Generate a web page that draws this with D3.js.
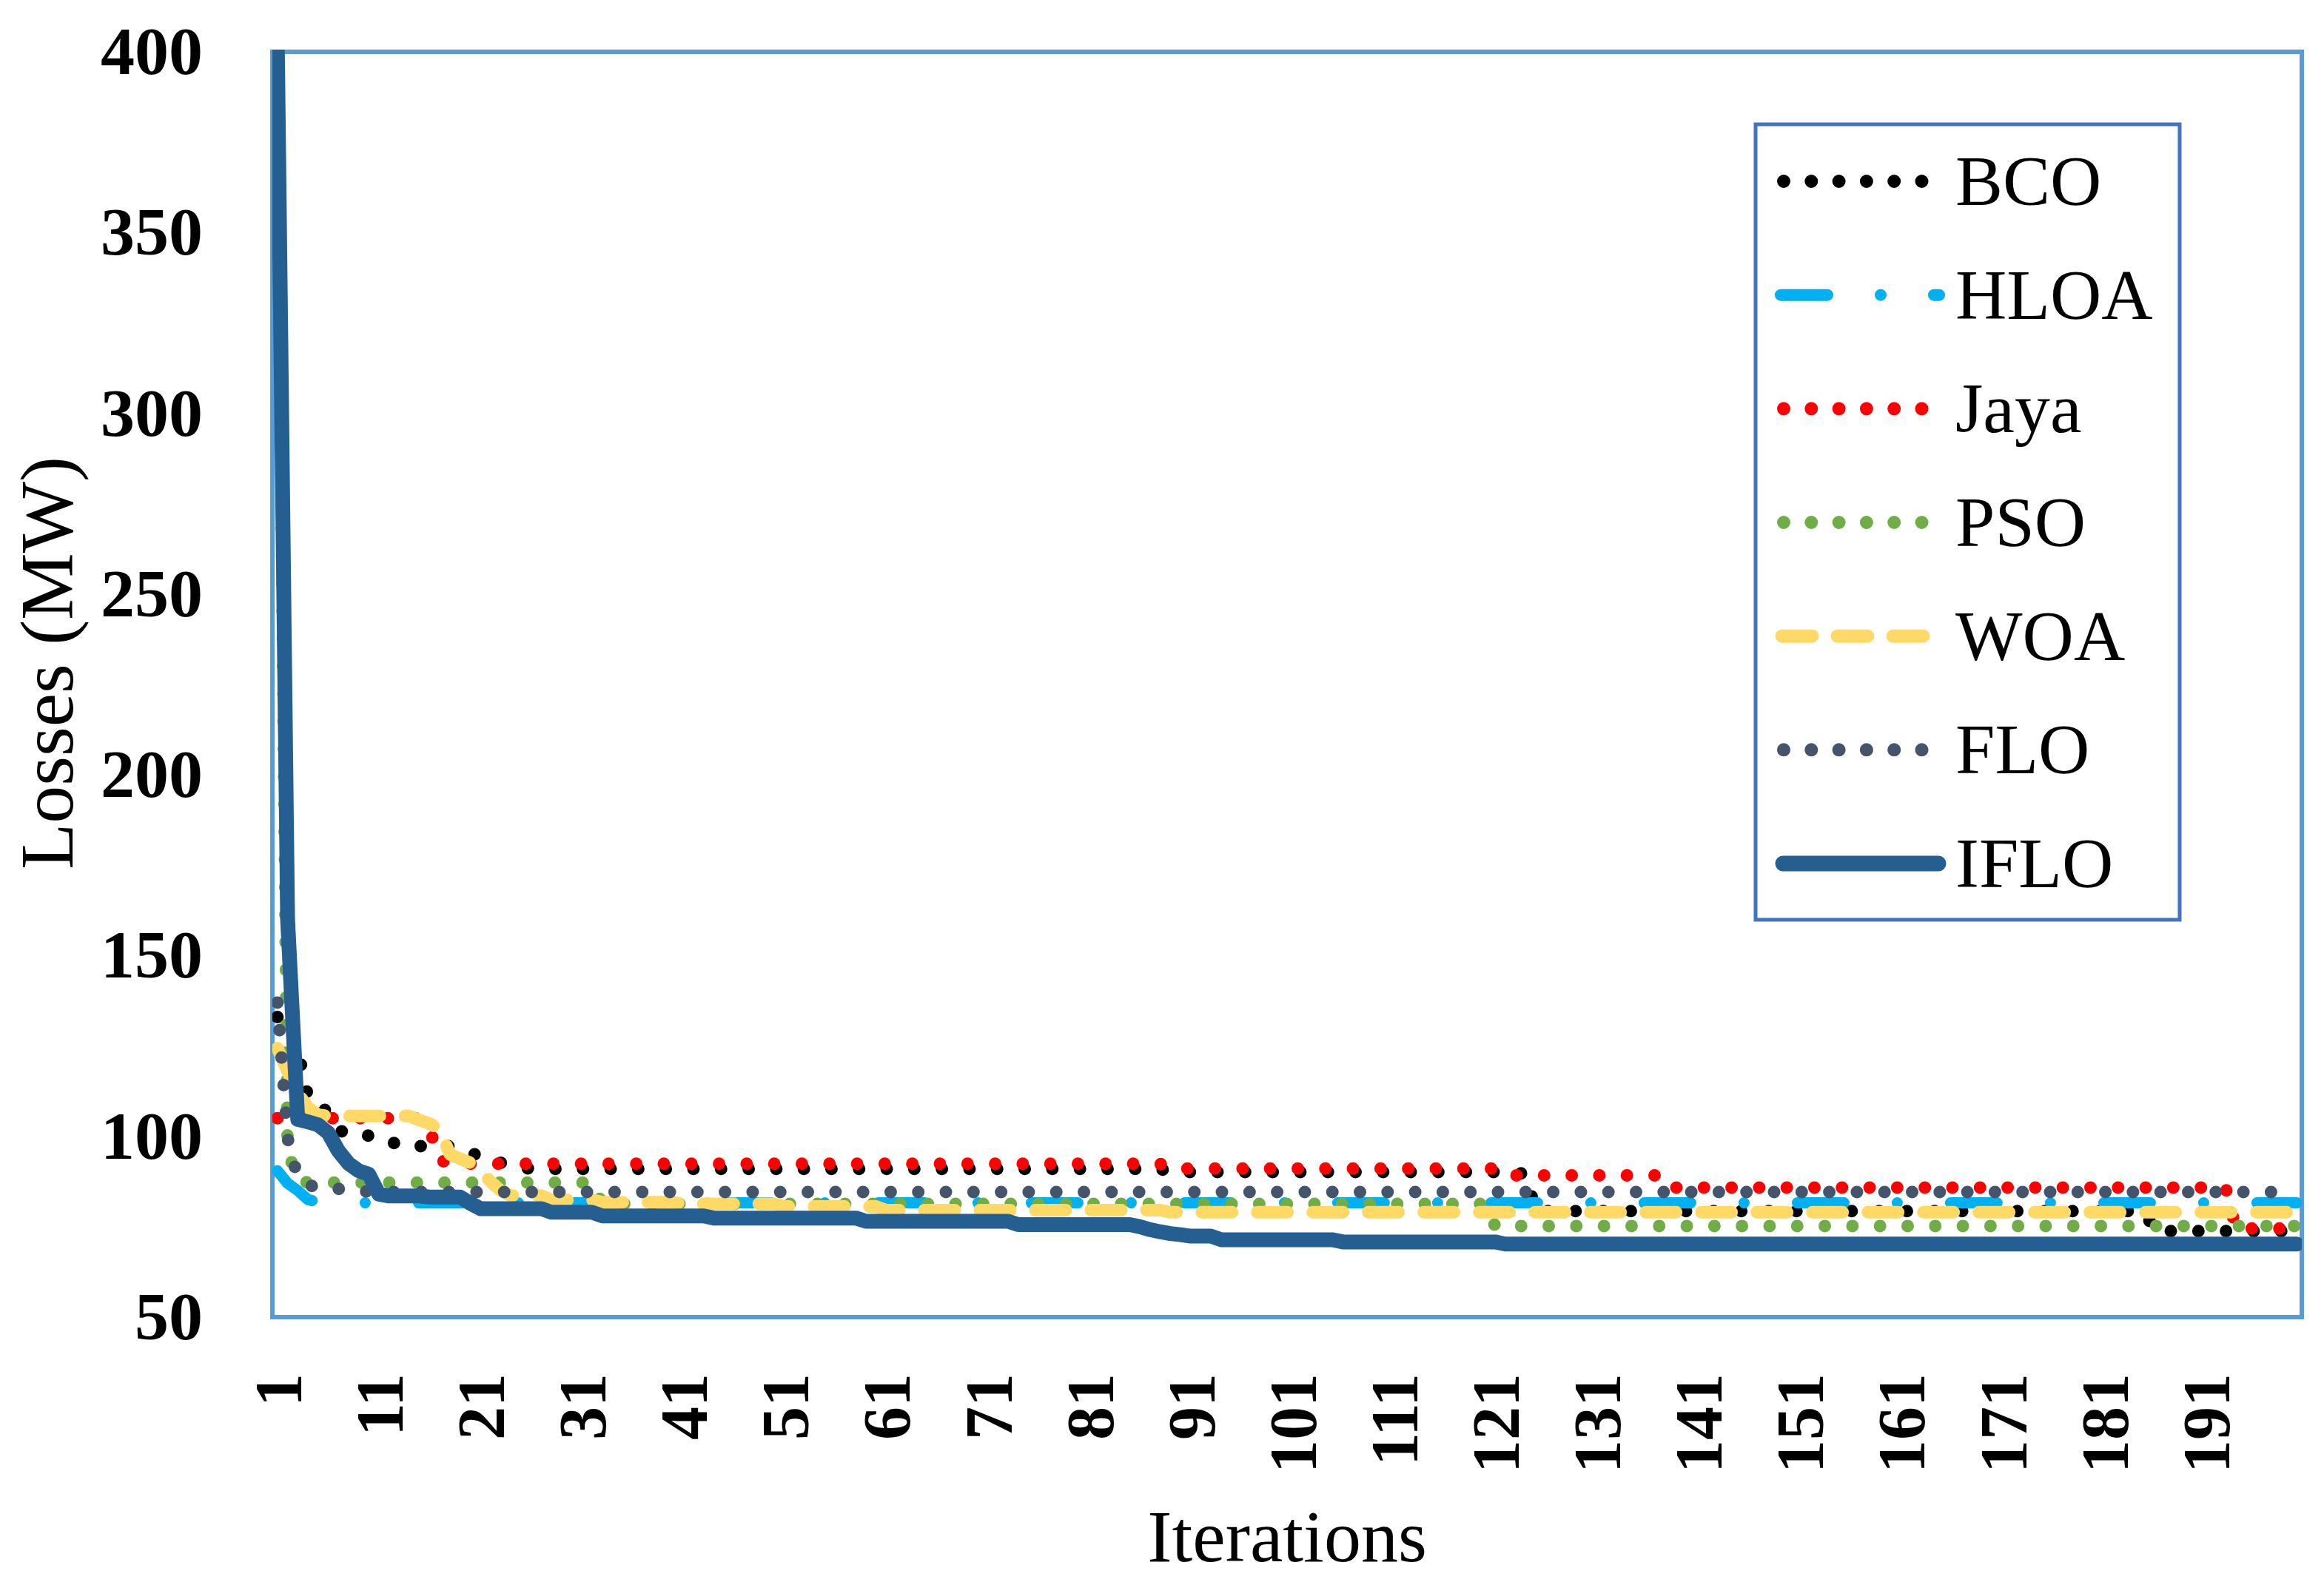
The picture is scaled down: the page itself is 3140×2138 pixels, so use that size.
<!DOCTYPE html>
<html>
<head>
<meta charset="utf-8">
<script src="https://cdn.jsdelivr.net/npm/d3@7"></script>
<style>
  html, body { margin: 0; padding: 0; background: #fff; }
  svg { display: block; }
</style>
</head>
<body>
<div id="container"></div>
<script>
// x categories: iteration number
const iterations = d3.range(1, 201);
const xTickLabels = [1, 11, 21, 31, 41, 51, 61, 71, 81, 91, 101, 111, 121, 131, 141, 151, 161, 171, 181, 191];
const yTicks = [50, 100, 150, 200, 250, 300, 350, 400];

// convergence curves
// each entry is [iteration, losses]; the value holds until the next entry
const bcoRuns = [[1, 133], [2, 131], [3, 124], [4, 111], [5, 110], [6, 106], [7, 102], [8, 100.2], [12, 99], [13, 97.3],
  [19, 96.5], [20, 95.5], [21, 94.4], [22, 93.5], [23, 92.7], [24, 92], [25, 91.4], [26, 91.0], [89, 90.1], [124, 89.5],
  [125, 79.3], [186, 73.8]];
const hloaRuns = [[1, 90.5], [2, 87], [3, 85], [4, 82.5], [5, 81.8], [6, 81.6]];
const jayaRuns = [[1, 105], [16, 102], [17, 93.5], [18, 92.4], [89, 91.1], [123, 89.2], [138, 85.8], [194, 74.5]];
const psoRuns = [[1, 398], [2, 96], [3, 88], [4, 87.2], [33, 81.3], [121, 75.2]];
const woaRuns = [[1, 124.4], [2, 118], [3, 112], [4, 108], [5, 106], [6, 105.6], [15, 104.5], [16, 103.5], [17, 102],
  [18, 95], [19, 93.8], [20, 92.7], [21, 90.5], [22, 87.5], [23, 85], [24, 83.6], [28, 82.4], [33, 81.8], [41, 81.3],
  [51, 80.6], [61, 79.6], [89, 79.0]];
const floRuns = [[1, 137], [2, 99.5], [3, 88.5], [4, 86.8], [5, 85.5], [8, 85.1], [10, 84.6]];
const ifloRuns = [[1, 400], [2, 160], [3, 104.7], [4, 104], [5, 103.2], [6, 101], [7, 96], [8, 92.5], [9, 90.5],
  [10, 89.5], [11, 84], [12, 83.5], [16, 83.2], [20, 81.5], [21, 80], [28, 79], [33, 78], [44, 77.4], [59, 76.5],
  [74, 75.6], [86, 75], [87, 74.2], [88, 73.6], [89, 73.1], [90, 72.8], [91, 72.4], [94, 71.4], [106, 70.8], [122, 70.2]];

const seriesNames = ["BCO", "HLOA", "Jaya", "PSO", "WOA", "FLO", "IFLO"];
const seriesRuns = [bcoRuns, hloaRuns, jayaRuns, psoRuns, woaRuns, floRuns, ifloRuns];

// looks of each series (Excel style line formats)
const styles = [
  { color: "#000000", width: 17, dash: "0 37.3" },
  { color: "#00B0F0", width: 15, dash: "63 72 0 72" },
  { color: "#FF0000", width: 17, dash: "0 37.3" },
  { color: "#70AD47", width: 17, dash: "0 37.3" },
  { color: "#FFD966", width: 17, dash: "41 34" },
  { color: "#44546A", width: 17, dash: "0 37.3" },
  { color: "#255E91", width: 20, dash: null }
];

// turn the step runs into one value per iteration
function expand(runs) {
  return iterations.map(it => {
    let v = runs[0][1];
    runs.forEach(r => { if (it >= r[0]) v = r[1]; });
    return { it: it, v: v };
  });
}

const W = 3140, H = 2138;
const plot = { left: 368, right: 3110, top: 70, bottom: 1780 };
const serif = "'Liberation Serif', 'DejaVu Serif', serif";

let svg = d3.select("#container")
  .append("svg")
  .attr("width", W)
  .attr("height", H);

svg.append("rect").attr("width", W).attr("height", H).attr("fill", "#fff");

let x = d3.scalePoint()
  .domain(iterations)
  .range([plot.left, plot.right])
  .padding(0.5);

let y = d3.scaleLinear()
  .domain([50, 400])
  .range([plot.bottom, plot.top]);

// plot area frame
svg.append("rect")
  .attr("x", plot.left)
  .attr("y", plot.top)
  .attr("width", plot.right - plot.left)
  .attr("height", plot.bottom - plot.top)
  .attr("fill", "none")
  .attr("stroke", "#5B9BD5")
  .attr("stroke-width", 6);

// y axis
let yAxis = svg.append("g")
  .attr("transform", `translate(${plot.left},0)`)
  .call(d3.axisLeft(y).tickValues(yTicks).tickSize(0).tickPadding(94));
yAxis.select(".domain").remove();
yAxis.selectAll("text")
  .style("font-family", serif)
  .style("font-size", "92px")
  .style("font-weight", "bold")
  .attr("fill", "#000");

// x axis, labels turned upright
let xAxis = svg.append("g")
  .attr("transform", `translate(0,${plot.bottom})`)
  .call(d3.axisBottom(x).tickValues(xTickLabels).tickSize(0));
xAxis.select(".domain").remove();
xAxis.selectAll("text")
  .attr("transform", "rotate(-90)")
  .attr("x", -76)
  .attr("y", 0)
  .attr("dy", "0.35em")
  .style("text-anchor", "end")
  .style("font-family", serif)
  .style("font-size", "90px")
  .style("font-weight", "bold")
  .attr("fill", "#000");

// axis titles
svg.append("text")
  .attr("x", (plot.left + plot.right) / 2)
  .attr("y", 2110)
  .attr("text-anchor", "middle")
  .style("font-family", serif)
  .style("font-size", "100px")
  .text("Iterations");

svg.append("text")
  .attr("transform", `translate(98,896) rotate(-90)`)
  .attr("text-anchor", "middle")
  .style("font-family", serif)
  .style("font-size", "102px")
  .text("Losses (MW)");

// clip lines to the plot area
svg.append("clipPath").attr("id", "plotClip")
  .append("rect")
  .attr("x", plot.left)
  .attr("y", plot.top - 3)
  .attr("width", plot.right - plot.left)
  .attr("height", plot.bottom - plot.top + 3);

let line = d3.line()
  .x(d => x(d.it))
  .y(d => y(d.v));

let lines = svg.append("g").attr("clip-path", "url(#plotClip)");
seriesRuns.forEach((runs, i) => {
  let s = styles[i];
  lines.append("path")
    .datum(expand(runs))
    .attr("d", line)
    .attr("fill", "none")
    .attr("stroke", s.color)
    .attr("stroke-width", s.width)
    .attr("stroke-linecap", "round")
    .attr("stroke-linejoin", "round")
    .attr("stroke-dasharray", s.dash);
});

// legend
let legend = svg.append("g");
legend.append("rect")
  .attr("x", 2372)
  .attr("y", 168)
  .attr("width", 573)
  .attr("height", 1075)
  .attr("fill", "#fff")
  .attr("stroke", "#4472C4")
  .attr("stroke-width", 5);

let rowY = d3.scalePoint().domain(seriesNames).range([245, 1167]);

seriesNames.forEach((name, i) => {
  let s = styles[i];
  let ly = rowY(name);
  let x0 = 2409, x1 = 2619;
  if (s.dash === "0 37.3") { x0 = 2410; x1 = 2597; }
  if (s.dash === "41 34") { x0 = 2407.5; x1 = 2600; }
  if (s.dash === "63 72 0 72") { x0 = 2406; x1 = 2620; }
  legend.append("line")
    .attr("x1", x0).attr("x2", x1)
    .attr("y1", ly).attr("y2", ly)
    .attr("stroke", s.color)
    .attr("stroke-width", s.width + 1)
    .attr("stroke-linecap", "round")
    .attr("stroke-dasharray", s.dash);
  legend.append("text")
    .attr("x", 2642)
    .attr("y", ly + 32)
    .style("font-family", serif)
    .style("font-size", "96px")
    .text(name);
});
</script>
</body>
</html>
